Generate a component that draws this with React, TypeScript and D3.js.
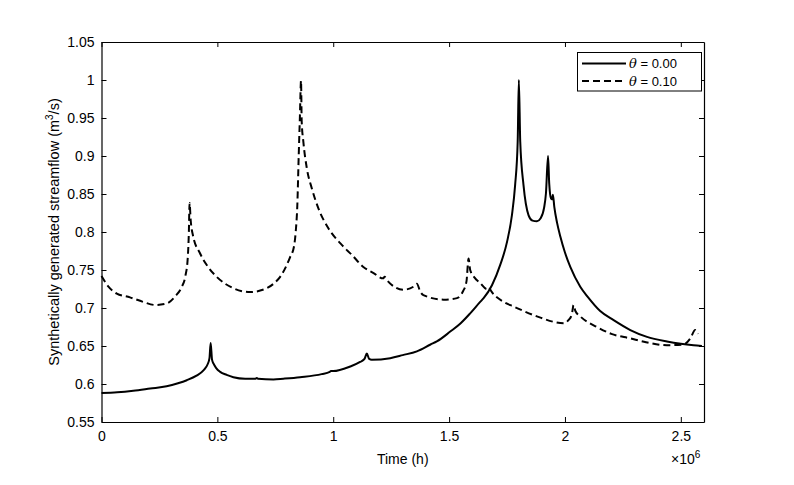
import React, { useEffect, useRef } from "react";
import * as d3 from "d3";

/* DATA (time in units of 1e6 h, streamflow in m3/s) */
const thetaZeroTime = [
  0, 0.068, 0.137, 0.21, 0.281, 0.33, 0.368, 0.41, 0.44, 0.458, 0.466, 0.471,
  0.477, 0.483, 0.495, 0.512, 0.54, 0.569, 0.62, 0.665, 0.67, 0.675, 0.742,
  0.785, 0.857, 0.95, 0.985, 0.99, 1.0, 1.073, 1.116, 1.135, 1.145, 1.155,
  1.166, 1.246, 1.3, 1.361, 1.42, 1.447, 1.505, 1.55, 1.591, 1.634, 1.649,
  1.685, 1.721, 1.75, 1.771, 1.785, 1.796, 1.801, 1.807, 1.821, 1.843, 1.86,
  1.879, 1.895, 1.91, 1.918, 1.927, 1.932, 1.94, 1.944, 1.948, 1.954, 1.966,
  1.98, 2.0, 2.023, 2.066, 2.1, 2.152, 2.21, 2.282, 2.354, 2.44, 2.5, 2.555,
  2.591,
];
const thetaZeroFlow = [
  0.588, 0.589, 0.591, 0.594, 0.597, 0.601, 0.605, 0.611, 0.618, 0.626, 0.634,
  0.654, 0.632, 0.627, 0.621, 0.616, 0.612, 0.609, 0.607, 0.607, 0.608, 0.607,
  0.606, 0.607, 0.609, 0.613, 0.616, 0.617, 0.617, 0.623, 0.629, 0.633, 0.64,
  0.633, 0.632, 0.634, 0.638, 0.643, 0.652, 0.656, 0.669, 0.68, 0.693, 0.708,
  0.713, 0.73, 0.757, 0.787, 0.822, 0.862, 0.919, 1.0, 0.919, 0.862, 0.822,
  0.815, 0.814, 0.818, 0.832, 0.851, 0.9, 0.864, 0.844, 0.843, 0.849, 0.833,
  0.812, 0.794, 0.773, 0.754, 0.728, 0.714, 0.696, 0.684, 0.671, 0.662, 0.656,
  0.653, 0.651, 0.65,
];

const thetaTenTime = [
  0, 0.03, 0.066, 0.123, 0.18, 0.231, 0.281, 0.32, 0.345, 0.362, 0.372, 0.377,
  0.38, 0.385, 0.395, 0.425, 0.46, 0.497, 0.569, 0.641, 0.713, 0.75, 0.771,
  0.8, 0.814, 0.83, 0.838, 0.845, 0.851, 0.856, 0.861, 0.864, 0.871, 0.886,
  0.908, 0.936, 0.979, 1.037, 1.08, 1.13, 1.174, 1.215, 1.222, 1.231, 1.303,
  1.346, 1.361, 1.375, 1.389, 1.476, 1.534, 1.56, 1.575, 1.584, 1.591, 1.61,
  1.634, 1.663, 1.672, 1.68, 1.735, 1.778, 1.879, 1.994, 2.015, 2.03, 2.037,
  2.045, 2.066, 2.138, 2.2, 2.282, 2.35, 2.44, 2.512, 2.541, 2.562, 2.575,
];
const thetaTenFlow = [
  0.742, 0.728, 0.719, 0.714, 0.708, 0.704, 0.706, 0.716, 0.727, 0.742, 0.765,
  0.8, 0.838, 0.815, 0.795, 0.772, 0.754, 0.741, 0.726, 0.721, 0.726, 0.734,
  0.741, 0.757, 0.767, 0.78, 0.8, 0.835, 0.9, 0.95, 0.999, 0.945, 0.919,
  0.884, 0.857, 0.831, 0.805, 0.783, 0.77, 0.754, 0.746, 0.739, 0.741, 0.737,
  0.724, 0.728, 0.732, 0.722, 0.717, 0.711, 0.713, 0.722, 0.735, 0.765, 0.75,
  0.74, 0.733, 0.725, 0.727, 0.723, 0.708, 0.702, 0.689, 0.68, 0.684, 0.692,
  0.704, 0.696, 0.689, 0.675, 0.666, 0.66, 0.655, 0.651, 0.652, 0.66, 0.671,
  0.666,
];

const xTicks = [0, 0.5, 1, 1.5, 2, 2.5];
const yTicks = [0.55, 0.6, 0.65, 0.7, 0.75, 0.8, 0.85, 0.9, 0.95, 1, 1.05];
const seriesNames = ["0.00", "0.10"];

const FONT = "'Liberation Sans', Arial, Helvetica, sans-serif";

function App() {
  const chartRef = useRef<SVGSVGElement>(null);

  useEffect(() => {
    const svg = d3.select(chartRef.current);
    svg.selectAll("*").remove();

    const margin = { top: 42, bottom: 63, right: 90, left: 101.5 };
    const width = 794;
    const height = 485;
    const innerW = width - margin.left - margin.right;
    const innerH = height - margin.top - margin.bottom;

    const x = d3.scaleLinear().domain([0, 2.6]).range([margin.left, margin.left + innerW]);
    const y = d3.scaleLinear().domain([0.55, 1.05]).range([margin.top + innerH, margin.top]);

    const tickFmt = (d: any) => String(d);

    // axes (MATLAB style: inward ticks, box)
    const bottom = svg
      .append("g")
      .attr("transform", "translate(0," + (margin.top + innerH) + ")")
      .call(d3.axisBottom(x).tickValues(xTicks).tickSizeInner(-5).tickSizeOuter(0).tickPadding(9).tickFormat(tickFmt));
    const left = svg
      .append("g")
      .attr("transform", "translate(" + margin.left + ",0)")
      .call(d3.axisLeft(y).tickValues(yTicks).tickSizeInner(-5).tickSizeOuter(0).tickPadding(7).tickFormat(tickFmt));
    const top = svg
      .append("g")
      .attr("transform", "translate(0," + margin.top + ")")
      .call(d3.axisTop(x).tickValues(xTicks).tickSizeInner(-5).tickSizeOuter(0).tickFormat(() => ""));
    const right = svg
      .append("g")
      .attr("transform", "translate(" + (margin.left + innerW) + ",0)")
      .call(d3.axisRight(y).tickValues(yTicks).tickSizeInner(-5).tickSizeOuter(0).tickFormat(() => ""));

    [bottom, left, top, right].forEach((g) => {
      g.selectAll("path").attr("stroke", "#000").attr("stroke-width", 1.2);
      g.selectAll("line").attr("stroke", "#000").attr("stroke-width", 1);
      g.selectAll("text")
        .attr("fill", "#000")
        .style("font-family", FONT)
        .style("font-size", "14px");
    });

    // lines
    const line = d3
      .line<[number, number]>()
      .x((d) => x(d[0]))
      .y((d) => y(d[1]))
      .curve(d3.curveMonotoneX);

    const solid: [number, number][] = thetaZeroTime.map((t, i) => [t, thetaZeroFlow[i]]);
    const dashed: [number, number][] = thetaTenTime.map((t, i) => [t, thetaTenFlow[i]]);

    svg
      .append("path")
      .datum(dashed)
      .attr("fill", "none")
      .attr("stroke", "#000")
      .attr("stroke-width", 2)
      .attr("stroke-dasharray", "7,4")
      .attr("d", line);

    svg
      .append("path")
      .datum(solid)
      .attr("fill", "none")
      .attr("stroke", "#000")
      .attr("stroke-width", 2)
      .attr("d", line);

    // axis labels
    svg
      .append("text")
      .attr("x", margin.left + innerW / 2)
      .attr("y", 464)
      .attr("text-anchor", "middle")
      .style("font-family", FONT)
      .style("font-size", "14px")
      .text("Time (h)");

    const mult = svg
      .append("text")
      .attr("x", 671)
      .attr("y", 464)
      .style("font-family", FONT)
      .style("font-size", "14px");
    mult.append("tspan").text("\u00d710");
    mult.append("tspan").attr("dy", -6).style("font-size", "10px").text("6");

    const ylab = svg
      .append("text")
      .attr("transform", "translate(59," + (margin.top + innerH / 2) + ") rotate(-90)")
      .attr("text-anchor", "middle")
      .style("font-family", FONT)
      .style("font-size", "14.5px");
    ylab.append("tspan").text("Synthetically generated streamflow (m");
    ylab.append("tspan").attr("dy", -6).style("font-size", "10px").text("3");
    ylab.append("tspan").attr("dy", 6).text("/s)");

    // legend
    const lg = svg.append("g");
    lg.append("rect")
      .attr("x", 577.5)
      .attr("y", 52.5)
      .attr("width", 124)
      .attr("height", 38.5)
      .attr("fill", "#fff")
      .attr("stroke", "#000")
      .attr("stroke-width", 1);
    seriesNames.forEach((name, i) => {
      const ly = 63.5 + i * 17.5;
      lg.append("line")
        .attr("x1", 582)
        .attr("x2", 626)
        .attr("y1", ly)
        .attr("y2", ly)
        .attr("stroke", "#000")
        .attr("stroke-width", 2)
        .attr("stroke-dasharray", i === 1 ? "7,4" : null);
      const t = lg
        .append("text")
        .attr("x", 629)
        .attr("y", ly + 4.5)
        .style("font-family", FONT)
        .style("font-size", "13px");
      t.append("tspan").style("font-style", "italic").style("font-family", "'DejaVu Serif', serif").text("\u03b8");
      t.append("tspan").text(" = " + name);
    });
  }, []);

  return (
    <div id="chart">
      <svg
        ref={chartRef}
        width={794}
        height={485}
        style={{ position: "absolute", left: 0, top: 0, background: "#fff" }}
      />
    </div>
  );
}

export default App;
